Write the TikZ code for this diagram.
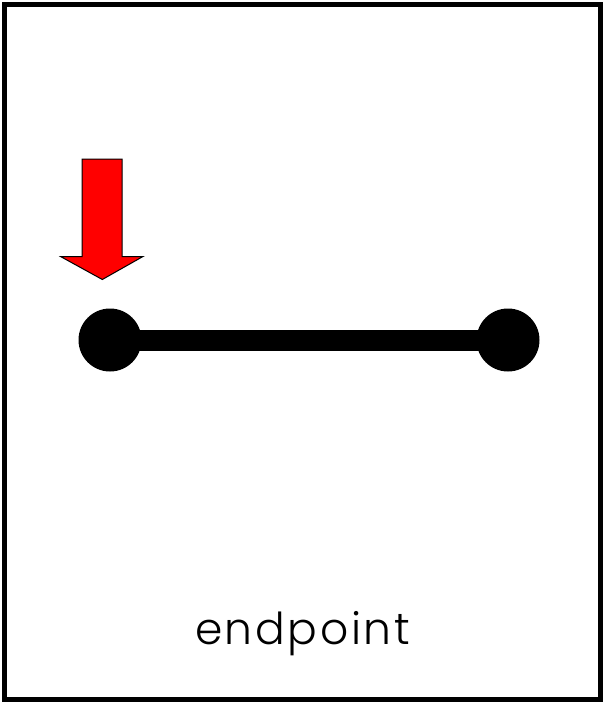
\documentclass[tikz,border=0pt]{standalone}
\usepackage{fontspec}
\newfontfamily\labelfont[LetterSpace=6]{Poppins Light}
\begin{document}
\begin{tikzpicture}[x=1pt,y=-1pt,
  frame/.style={draw=black,line width=5pt},
  bar/.style={line width=21pt,draw=black},
  dot/.style={circle,fill=black,minimum size=63pt,inner sep=0pt},
  blockarrow/.style={fill=red,draw=black,line width=1pt,line join=miter},
  caption/.style={font=\labelfont\fontsize{44}{52}\selectfont,inner sep=0pt,anchor=base}]
\useasboundingbox (0,0) rectangle (605,704);
\draw[frame] (4.5,4.5) rectangle (600.5,699.5);
\node[dot] (left) at (110,340) {};
\node[dot] (right) at (508,340) {};
\draw[bar] (left.center) -- (right.center);
\draw[blockarrow] (82,159) -- (122,159) -- (122,256.5) -- (143,256.5) -- (102.3,279.5) -- (60.5,256.5) -- (82,256.5) -- cycle;
\node[caption] (label) at (302.5,644) {endpoint};
\end{tikzpicture}
\end{document}
